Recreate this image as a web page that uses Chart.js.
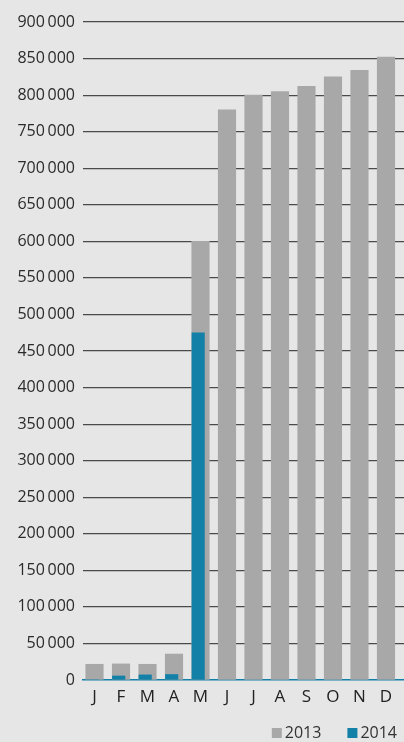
<!DOCTYPE html>
<html>
<head>
<meta charset="utf-8">
<script src="https://cdn.jsdelivr.net/npm/chart.js@4"></script>
<style>
    html, body { margin: 0; padding: 0; background: #e6e6e6; }
    #wrap { width: 404px; height: 742px; }
</style>
</head>
<body>
<div id="wrap"><canvas id="chart" width="404" height="742"></canvas></div>
<script>
const months = ['J', 'F', 'M', 'A', 'M', 'J', 'J', 'A', 'S', 'O', 'N', 'D'];
const sales2013 = [21500, 22000, 21500, 35500, 600000, 780000, 800000, 805000, 812000, 825000, 834000, 852000];
const sales2014 = [0, 5500, 7000, 7500, 475000, null, null, null, null, null, null, null];
const yTickValues = [0, 50000, 100000, 150000, 200000, 250000, 300000, 350000, 400000,
    450000, 500000, 550000, 600000, 650000, 700000, 750000, 800000, 850000, 900000];

const grey = '#a8a8a8';
const blue = '#1380a7';

function formatTick(value) {
    if (value === 0) return '0';
    return Math.floor(value / 1000) + '\u2009000';
}

// legend sits in the bottom right corner, square close to the text
const cornerLegend = {
    id: 'cornerLegend',
    afterDraw(chart) {
        const ctx = chart.ctx;
        ctx.save();
        ctx.font = '16px "Open Sans"';
        ctx.textBaseline = 'middle';
        let x = 397;
        const y = 733;
        chart.data.datasets.slice().reverse().forEach(ds => {
            const w = ctx.measureText(ds.label).width;
            x -= w;
            ctx.fillStyle = '#333';
            ctx.fillText(ds.label, x, y);
            x -= 13;
            ctx.fillStyle = ds.backgroundColor;
            ctx.fillRect(x, y - 5, 10, 10);
            x -= 26;
        });
        ctx.restore();
    }
};

document.addEventListener('DOMContentLoaded', () => {
    const ctx = document.getElementById('chart').getContext('2d');

    new Chart(ctx, {
        type: 'bar',
        data: {
            datasets: [{
                label: '2013',
                data: sales2013.map((v, i) => ({ x: i + 1, y: v })),
                backgroundColor: grey,
                barThickness: 17.5,
                grouped: false,
                xAxisID: 'x',
                order: 1
            }, {
                label: '2014',
                data: sales2014.map((v, i) => ({ x: i + 1, y: v })),
                backgroundColor: blue,
                barThickness: 12.5,
                grouped: false,
                xAxisID: 'x2',
                order: 0
            }]
        },
        options: {
            responsive: false,
            animation: false,
            devicePixelRatio: 1,
            layout: {
                padding: { top: 22, right: 0, bottom: 19, left: 0 }
            },
            plugins: {
                legend: { display: false },
                tooltip: { enabled: false }
            },
            scales: {
                x: {
                    type: 'linear',
                    offset: false,
                    min: 0.566,
                    max: 12.68,
                    afterBuildTicks: scale => {
                        scale.ticks = months.map((m, i) => ({ value: i + 1 }));
                    },
                    afterFit: scale => { scale.height = 43; },
                    grid: { display: false, drawTicks: false },
                    border: { color: blue, width: 1.5 },
                    ticks: {
                        padding: 7,
                        autoSkip: false,
                        maxRotation: 0,
                        color: '#222',
                        font: { family: 'Open Sans', size: 17 },
                        callback: value => months[value - 1]
                    }
                },
                x2: {
                    type: 'linear',
                    display: false,
                    offset: false,
                    min: 0.566 + 0.087, // 2014 bars sit a bit left of the 2013 ones
                    max: 12.68 + 0.087
                },
                y: {
                    min: 0,
                    max: 900000,
                    afterBuildTicks: scale => {
                        scale.ticks = yTickValues.map(v => ({ value: v }));
                    },
                    afterFit: scale => { scale.width = 83; },
                    grid: {
                        color: c => c.tick && c.tick.value === 0 ? 'rgba(0,0,0,0)' : '#4a4a4a',
                        lineWidth: 1.2,
                        drawTicks: false
                    },
                    border: { display: false },
                    ticks: {
                        padding: 8,
                        color: '#2b2b2b',
                        font: { family: 'Open Sans', size: 16 },
                        callback: formatTick
                    }
                }
            }
        },
        plugins: [cornerLegend]
    });
});
</script>
</body>
</html>
